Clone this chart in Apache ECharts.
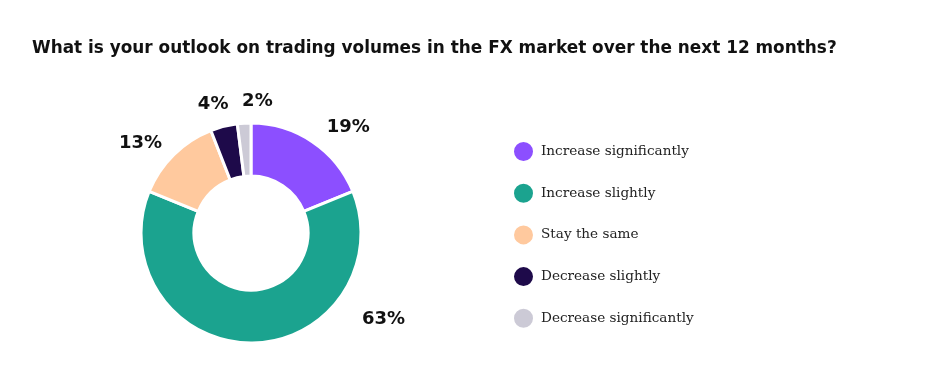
<!DOCTYPE html>
<html><head><meta charset="utf-8">
<script src="https://cdn.jsdelivr.net/npm/echarts@6/dist/echarts.min.js"></script>
<style>html,body{margin:0;padding:0;background:#fff}#c{width:935px;height:374px}</style>
</head><body><div id="c"></div>
<script>
const titleText = 'What is your outlook on trading volumes in the FX market over the next 12 months?';
const categories = ['Increase significantly','Increase slightly','Stay the same','Decrease slightly','Decrease significantly'];
const values = [19, 63, 13, 4, 2];
const colors = ['#8C4FFF','#1BA38F','#FFC99E','#1E0A4A','#CCCAD6'];

const chart = echarts.init(document.getElementById('c'));
// label nudges (styling only) to match the reference's hand-placed labels
const labelNudge = [[-5,-8],[96,-32],[10,-12],[54,-31],[44,-14]];
chart.setOption({
  animation: false,
  title: {
    text: titleText, left: 27, top: 35,
    textStyle: {fontFamily: 'DejaVu Sans', fontWeight: 700, fontSize: 16.9, color: '#111'}
  },
  legend: {
    orient: 'vertical', left: 507, top: 135,
    icon: 'circle', itemWidth: 21, itemHeight: 21, itemGap: 18.7,
    data: categories,
    textStyle: {fontFamily: 'DejaVu Serif', fontSize: 13.6, color: '#222', padding: [0,0,0,2]}
  },
  series: [{
    type: 'pie',
    center: [251, 233],
    radius: [57, 110],
    startAngle: 90,
    clockwise: true,
    itemStyle: {borderColor: '#fff', borderWidth: 3},
    label: {
      show: true, position: 'outside',
      formatter: '{c}%',
      fontFamily: 'DejaVu Sans', fontWeight: 700, fontSize: 18, color: '#111'
    },
    labelLine: {show: false, length: 8, length2: 10},
    labelLayout: p => ({dx: labelNudge[p.dataIndex][0], dy: labelNudge[p.dataIndex][1]}),
    data: categories.map((n, i) => ({name: n, value: values[i], itemStyle: {color: colors[i]}}))
  }]
});
</script></body></html>
